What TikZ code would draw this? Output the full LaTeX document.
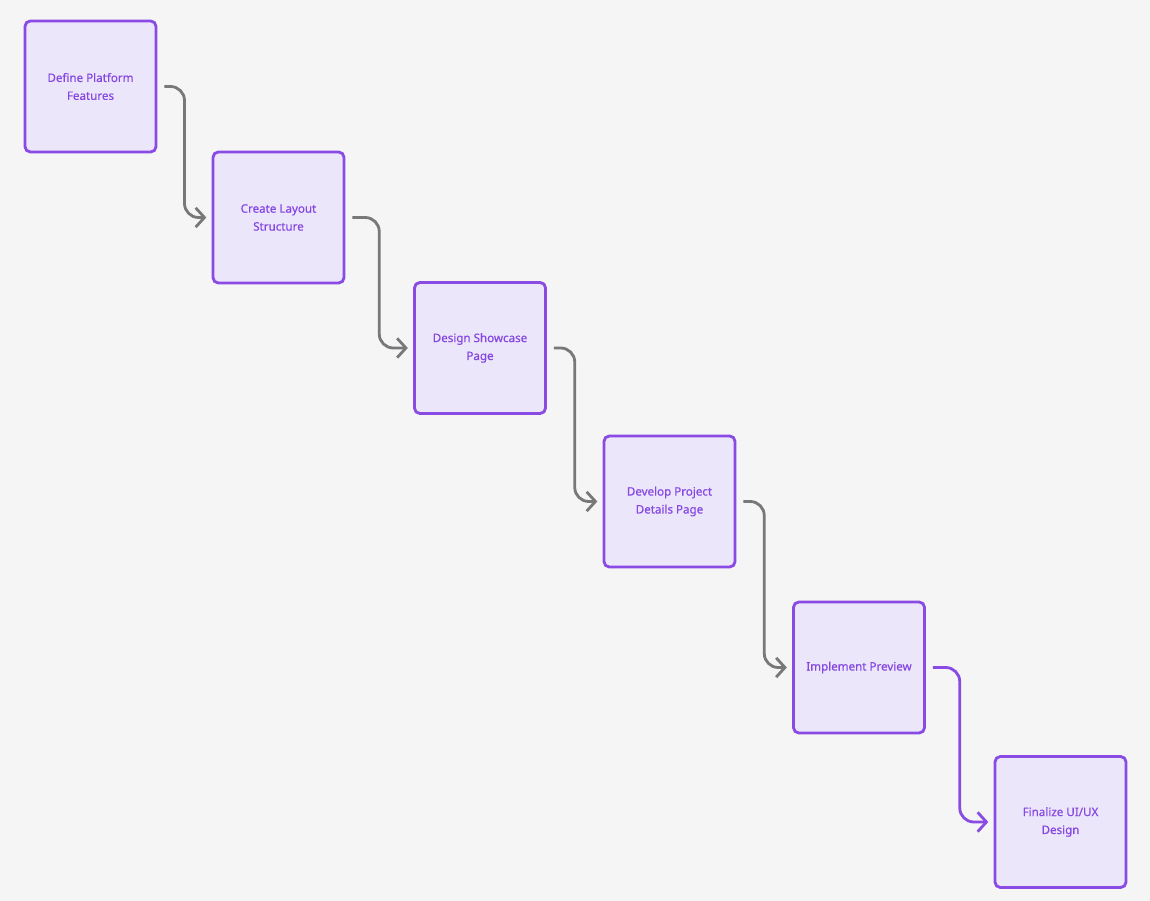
\documentclass[tikz,border=0pt]{standalone}
\usepackage{fontspec}
\setmainfont{Noto Sans}[FakeBold=0.6]
\usetikzlibrary{arrows.meta,calc}
\definecolor{bgray}{RGB}{245,245,245}
\definecolor{boxline}{RGB}{137,75,228}
\definecolor{boxfill}{RGB}{236,230,250}
\definecolor{boxtext}{RGB}{134,72,226}
\definecolor{linkgray}{RGB}{120,120,120}
\tikzset{
  stepbox/.style={draw=boxline,fill=boxfill,line width=1.6pt,rounded corners=3pt,
    minimum width=2.62cm,minimum height=2.62cm,align=center,text=boxtext,
    font=\fontsize{6.6}{10.2}\selectfont\bfseries},
  link/.style={draw=linkgray,line width=1.6pt,rounded corners=8pt,
    -{Straight Barb[length=5pt,width=11pt,line width=1.6pt]}},
}

\begin{document}
\begin{tikzpicture}[x=0.02cm,y=-0.02cm]
\useasboundingbox[fill=bgray] (0,0) rectangle (1150,901);
% the steps
\node[stepbox] (define) at (90.5,86.5) {Define Platform\\Features};
\node[stepbox] (layout) at (278.5,217.5) {Create Layout\\Structure};
\node[stepbox] (showcase) at (480,348) {Design Showcase\\Page};
\node[stepbox] (details) at (669.5,501.5) {Develop Project\\Details Page};
\node[stepbox] (preview) at (859,667.5) {Implement Preview};
\node[stepbox] (finalize) at (1060.5,822) {Finalize UI/UX\\Design};
% links
\draw[link] ([xshift=4pt]define.east) -| ($(define.east)!0.5!(layout.west)$) |- ([xshift=-3pt]layout.west);
\draw[link] ([xshift=4pt]layout.east) -| ($(layout.east)!0.5!(showcase.west)$) |- ([xshift=-3pt]showcase.west);
\draw[link] ([xshift=4pt]showcase.east) -| ($(showcase.east)!0.5!(details.west)$) |- ([xshift=-3pt]details.west);
\draw[link] ([xshift=4pt]details.east) -| ($(details.east)!0.5!(preview.west)$) |- ([xshift=-3pt]preview.west);
\draw[link,draw=boxline] ([xshift=4pt]preview.east) -| ($(preview.east)!0.5!(finalize.west)$) |- ([xshift=-3pt]finalize.west);
\end{tikzpicture}
\end{document}
